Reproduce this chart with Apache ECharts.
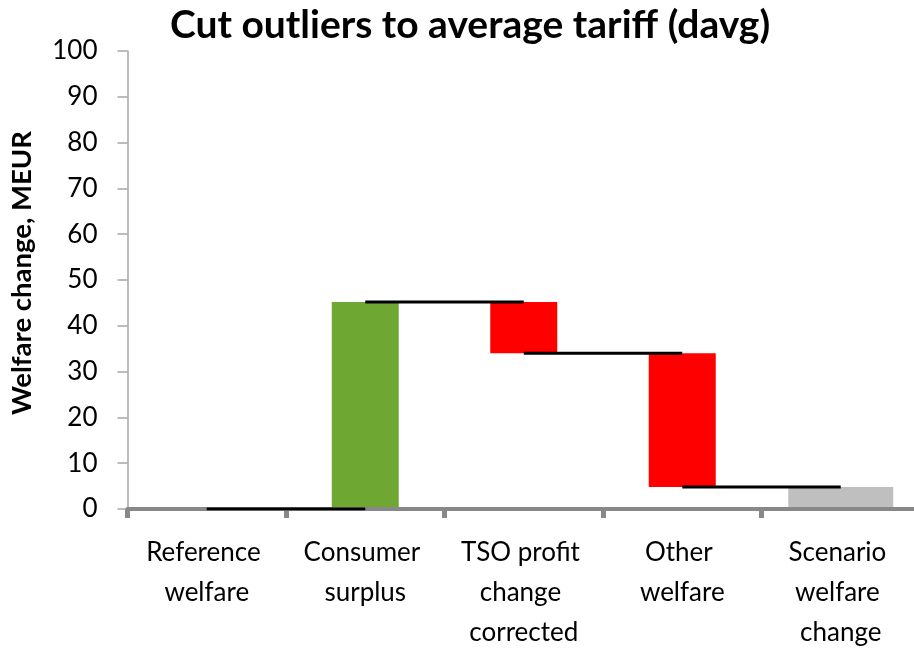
<!DOCTYPE html>
<html>
<head>
<meta charset="utf-8">
<script src="https://cdn.jsdelivr.net/npm/echarts@6/dist/echarts.min.js"></script>
<style>
  html, body { margin: 0; padding: 0; background: #fff; }
  #chart { width: 914px; height: 648px; }
</style>
</head>
<body>
<div id="chart"></div>
<script>
// Waterfall of welfare components, MEUR
const categories = ['Reference welfare', 'Consumer surplus', 'TSO profit change corrected', 'Other welfare', 'Scenario welfare change'];
// change contributed by each step (first and last are totals, drawn separately)
const steps = [0, 45.2, -11.2, -29.2];
const scenarioTotal = 4.8;
const stepColors = ['#6ea832', '#6ea832', '#ff0000', '#ff0000'];
const yTicks = { min: 0, max: 100, interval: 10 };

const FONT = 'Lato, "Open Sans", sans-serif';

// running level after each step
const levels = [];
let run = 0;
steps.forEach(function (s) { run += s; levels.push(+run.toFixed(2)); });

// invisible base + visible delta for the floating bars
const baseData = [];
const deltaData = [];
steps.forEach(function (s, i) {
  const before = i === 0 ? 0 : levels[i - 1];
  const after = levels[i];
  baseData.push(Math.min(before, after));
  deltaData.push({ value: Math.abs(after - before), itemStyle: { color: stepColors[i] } });
});
baseData.push(null);
deltaData.push(null);

const totalData = categories.map(function (c, i) { return i === categories.length - 1 ? scenarioTotal : null; });

// connector lines from each step to the next
const connectors = levels.map(function (lv, i) {
  const d = categories.map(function () { return null; });
  d[i] = lv;
  d[i + 1] = lv;
  return {
    type: 'line', data: d, xAxisIndex: 0, yAxisIndex: 0,
    symbol: 'none', silent: true, z: 5,
    lineStyle: { color: '#000', width: 3 }
  };
});

const chart = echarts.init(document.getElementById('chart'), null, { renderer: 'canvas' });
chart.setOption({
  animation: false,
  backgroundColor: '#fff',
  title: {
    text: 'Cut outliers to average tariff (davg)',
    left: 465, top: 1, textAlign: 'center',
    textStyle: { fontFamily: FONT, fontSize: 39, fontWeight: 'bold', color: '#000' }
  },
  grid: { left: 127.5, right: -6, top: 51, bottom: 139, containLabel: false, outerBoundsMode: 'none' },
  xAxis: [
    {
      type: 'category', data: categories,
      axisLine: { show: true, lineStyle: { color: '#888888', width: 4 } },
      axisTick: { show: true, length: 9, lineStyle: { color: '#888888', width: 5 } },
      axisLabel: {
        interval: 0, margin: 24, width: 140, overflow: 'break',
        fontFamily: FONT, fontSize: 26, lineHeight: 40, color: '#000'
      },
      z: 3
    },
    {
      type: 'category', data: categories, show: false
    }
  ],
  yAxis: {
    type: 'value', min: yTicks.min, max: yTicks.max, interval: yTicks.interval,
    name: 'Welfare change, MEUR', nameLocation: 'middle', nameGap: 91,
    nameTextStyle: { fontFamily: FONT, fontSize: 27.5, fontWeight: 'bold', color: '#000', padding: [0, 0, 0, 14] },
    axisLine: { show: true, lineStyle: { color: '#a6a6a6', width: 1.5 } },
    axisTick: { show: true, length: 10, lineStyle: { color: '#a6a6a6', width: 1.5 } },
    axisLabel: { margin: 30, fontFamily: FONT, fontSize: 26, color: '#000' },
    splitLine: { show: false }
  },
  series: [
    {
      type: 'bar', name: 'base', stack: 'wf', data: baseData, barWidth: 67,
      itemStyle: { color: 'transparent' }, silent: true
    },
    {
      type: 'bar', name: 'change', stack: 'wf', data: deltaData, barWidth: 67
    },
    {
      type: 'bar', name: 'total', xAxisIndex: 1, data: totalData, barWidth: 105,
      itemStyle: { color: '#bfbfbf' }
    }
  ].concat(connectors)
});
</script>
</body>
</html>
